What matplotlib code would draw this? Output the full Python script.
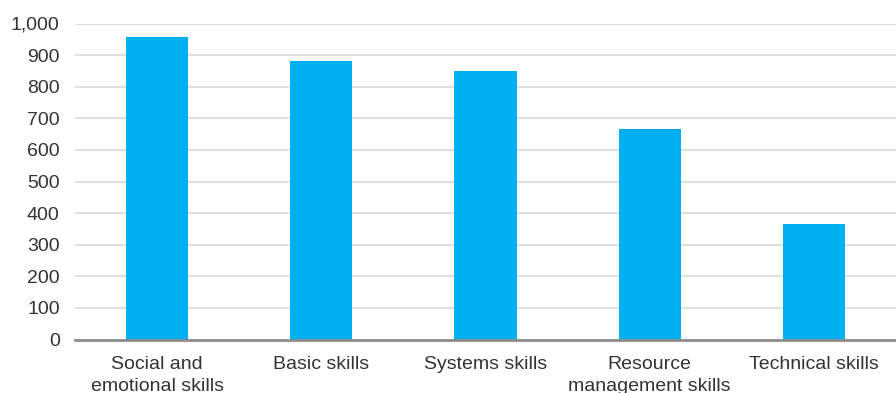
import matplotlib.pyplot as plt
import numpy as np

categories = ['Social and\nemotional skills', 'Basic skills', 'Systems skills',
              'Resource\nmanagement skills', 'Technical skills']
values = [957, 881, 850, 666, 365]
y_ticks = [0, 100, 200, 300, 400, 500, 600, 700, 800, 900, 1000]

plt.rcParams['font.family'] = ['Liberation Sans', 'DejaVu Sans']

fig = plt.figure(figsize=(8.96, 3.93), dpi=100)
ax = fig.add_axes([75 / 896, 1 - 339.5 / 393, 1 - 75 / 896, 316 / 393])

x = np.arange(len(categories))
ax.bar(x, values, width=0.38, color='#00B0F0', zorder=3)

ax.set_xlim(-0.5, len(categories) - 0.5)
ax.set_ylim(0, 1000)
ax.set_yticks(y_ticks)
ax.set_yticklabels([f'{v:,}' for v in y_ticks])
ax.set_xticks(x)
ax.set_xticklabels(categories, linespacing=1.35)

ax.grid(axis='y', color='#d9d9d9', linewidth=1.2, zorder=0)
for s in ['top', 'right', 'left']:
    ax.spines[s].set_visible(False)
ax.spines['bottom'].set_color('#8c8c8c')
ax.spines['bottom'].set_linewidth(2)
ax.spines['bottom'].set_zorder(4)

ax.tick_params(axis='both', length=0, labelsize=14, colors='#333333')
ax.tick_params(axis='y', pad=11)
ax.tick_params(axis='x', pad=12)

fig.savefig('out.png', dpi=100)
